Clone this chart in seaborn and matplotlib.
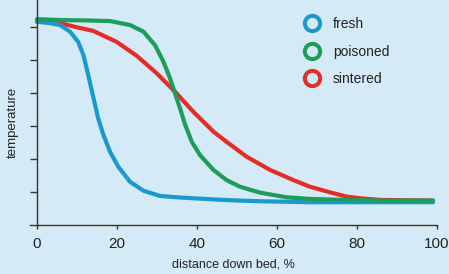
import numpy as np
import pandas as pd
import seaborn as sns
import matplotlib.pyplot as plt
from matplotlib.lines import Line2D

# values (distance %, temperature in tick units)
fresh_x = [0, 2.5, 5.75, 8.25, 10.3, 11.6, 12.8, 14.1, 15.3, 16.6, 18.25, 20.3, 23.25, 26.6, 30.75,
           35, 39.1, 45, 50.75, 55.75, 68.25, 85, 99]
fresh_y = [6.16, 6.13, 6.06, 5.86, 5.55, 5.15, 4.55, 3.86, 3.23, 2.73, 2.22, 1.77, 1.31, 1.04, 0.88,
           0.84, 0.81, 0.77, 0.74, 0.72, 0.69, 0.69, 0.69]

poisoned_x = [0, 5.75, 12, 18.25, 23.25, 26.6, 29.5, 31.6, 33.25, 34.5, 35.75, 37, 38.7, 40.75, 44.1,
              47.4, 50.75, 55.75, 62.4, 68.25, 77, 85.75, 99]
poisoned_y = [6.24, 6.21, 6.20, 6.18, 6.06, 5.86, 5.45, 4.95, 4.45, 3.99, 3.54, 3.05, 2.52, 2.12, 1.67,
              1.36, 1.16, 0.98, 0.84, 0.79, 0.76, 0.74, 0.74]

sintered_x = [0, 5.75, 10, 14.1, 19.9, 24.9, 29.9, 34.5, 39.1, 44.1, 47.4, 50.75, 52.4, 58.25, 64.1,
              68.25, 73.25, 77.4, 81.6, 85.75, 99]
sintered_y = [6.16, 6.12, 5.99, 5.88, 5.55, 5.13, 4.60, 4.04, 3.43, 2.83, 2.52, 2.22, 2.07, 1.67, 1.36,
              1.16, 0.99, 0.86, 0.80, 0.76, 0.74]

series = ['fresh', 'poisoned', 'sintered']
colors = {'fresh': '#1b99cf', 'poisoned': '#1d9c5a', 'sintered': '#e32d29'}
bg = '#d4eaf6'

df = pd.concat([
    pd.DataFrame({'x': fresh_x, 'y': fresh_y, 'bed': 'fresh'}),
    pd.DataFrame({'x': poisoned_x, 'y': poisoned_y, 'bed': 'poisoned'}),
    pd.DataFrame({'x': sintered_x, 'y': sintered_y, 'bed': 'sintered'}),
])

sns.set_style('ticks')
plt.rcParams['font.family'] = ['Liberation Sans Narrow', 'Liberation Sans', 'DejaVu Sans']

fig = plt.figure(figsize=(4.49, 2.74), dpi=100, facecolor=bg)
ax = fig.add_axes([30 / 449, 1 - 225 / 274, 407 / 449, 225 / 274])
ax.set_facecolor(bg)

# red underneath, then blue, green on top like the reference
for name in ['sintered', 'fresh', 'poisoned']:
    sub = df[df['bed'] == name]
    sns.lineplot(data=sub, x='x', y='y', color=colors[name], lw=3.0, sort=False,
                 solid_capstyle='round', solid_joinstyle='round', ax=ax)

ax.set_xlim(-1.75, 100)
ax.set_ylim(0, 225 / 33)
ax.spines['left'].set_position(('data', 0))
for s in ['top', 'right']:
    ax.spines[s].set_visible(False)
for s in ['left', 'bottom']:
    ax.spines[s].set_color('#333333')
    ax.spines[s].set_linewidth(1.0)

ax.set_xticks([0, 20, 40, 60, 80, 100])
ax.set_yticks([1, 2, 3, 4, 5, 6])
ax.set_yticklabels([])
ax.tick_params(axis='x', length=3, width=1, color='#333333', labelsize=11, pad=6, labelcolor='#222222')
ax.tick_params(axis='y', length=5, width=1, color='#333333')

ax.set_xlabel('distance down bed, %', fontsize=9, color='#222222', labelpad=5)
ax.set_ylabel('temperature', fontsize=9.5, color='#222222')
ax.yaxis.set_label_coords(-0.027, 0.455)

handles = [Line2D([], [], ls='none', marker='o', ms=11, mfc='none', mec=colors[n], mew=2.9) for n in series]
leg = ax.legend(handles, series, loc='upper left', bbox_to_anchor=(288 / 449, 0.983),
                bbox_transform=fig.transFigure, frameon=False, fontsize=10,
                labelspacing=0.97, handletextpad=0.75, handlelength=1.6)
for t in leg.get_texts():
    t.set_color('#222222')

fig.savefig('out.png', dpi=100, facecolor=bg)
